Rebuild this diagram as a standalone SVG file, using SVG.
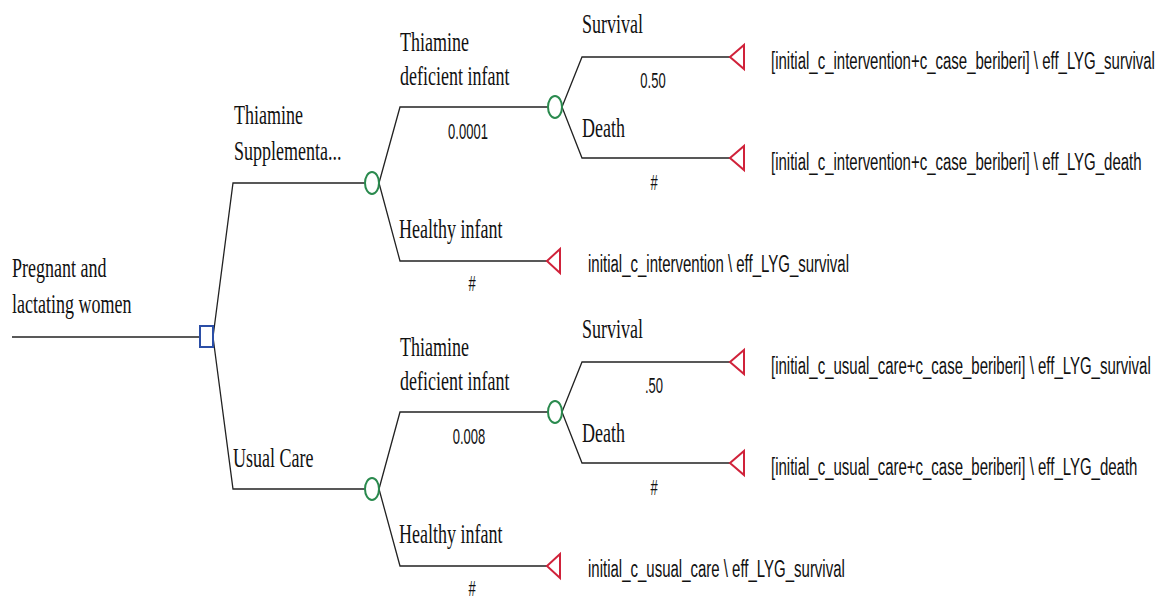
<svg xmlns="http://www.w3.org/2000/svg" width="1163" height="599" viewBox="0 0 1163 599">
<style>
.ln{stroke:#222;stroke-width:1.3;fill:none}
.dec{fill:#fff;stroke:#2b4ea6;stroke-width:2}
.chn{fill:#fff;stroke:#2a8a4e;stroke-width:2}
.trm{fill:#fff;stroke:#d0223a;stroke-width:2;stroke-linejoin:miter}
.lb{font-family:"Liberation Serif","Times New Roman",serif;font-size:18px;fill:#111}
.pf{font-family:"Liberation Sans",Arial,sans-serif;font-size:15px;fill:#111}
.pr{font-family:"Liberation Sans",Arial,sans-serif;font-size:13px;fill:#111;text-anchor:middle}
</style>
<rect width="1163" height="599" fill="#fff"/>
<g id="connectors">
<path class="ln" d="M12 337H200"/>
<path class="ln" d="M213 337L233 183H365M213 337L233 489H365"/>
<path class="ln" d="M379 183L400 107H548M379 183L400 261H547"/>
<path class="ln" d="M562 107L582 57H730M562 107L582 158H730"/>
<path class="ln" d="M379 489L400 412H548M379 489L400 566H547"/>
<path class="ln" d="M562 412L582 362H730M562 412L582 463H730"/>
</g>
<g id="root">
<rect class="dec" x="200" y="326" width="13" height="21"/>
<text class="lb" transform="translate(12,277) scale(1,1.55)">Pregnant and<tspan x="0" dy="23.5">lactating women</tspan></text>
</g>
<g id="thiamine-supplementation">
<ellipse class="chn" cx="372" cy="183" rx="7" ry="11"/>
<text class="lb" transform="translate(234,124) scale(1,1.55)">Thiamine<tspan x="0" dy="23.5">Supplementa...</tspan></text>
</g>
<g id="ts-deficient">
<ellipse class="chn" cx="555" cy="107" rx="7" ry="11"/>
<text class="lb" transform="translate(400,51) scale(1,1.55)">Thiamine<tspan x="0" dy="22">deficient infant</tspan></text>
<text class="pr" transform="translate(468,139) scale(1,1.7)">0.0001</text>
</g>
<g id="ts-survival">
<path class="trm" d="M730 57L744 45V69Z"/>
<text class="lb" transform="translate(582,33) scale(1,1.55)">Survival</text>
<text class="pr" transform="translate(653,88) scale(1,1.7)">0.50</text>
<text class="pf" transform="translate(771,69) scale(1,1.55)">[initial_c_intervention+c_case_beriberi] \ eff_LYG_survival</text>
</g>
<g id="ts-death">
<path class="trm" d="M730 158L744 146V170Z"/>
<text class="lb" transform="translate(582,137) scale(1,1.55)">Death</text>
<text class="pr" transform="translate(654,190) scale(1,1.7)">#</text>
<text class="pf" transform="translate(771,170) scale(1,1.55)">[initial_c_intervention+c_case_beriberi] \ eff_LYG_death</text>
</g>
<g id="ts-healthy">
<path class="trm" d="M547 261L560 249V273Z"/>
<text class="lb" transform="translate(399,238) scale(1,1.55)">Healthy infant</text>
<text class="pr" transform="translate(472,291) scale(1,1.7)">#</text>
<text class="pf" transform="translate(588,272) scale(1,1.55)">initial_c_intervention \ eff_LYG_survival</text>
</g>
<g id="usual-care">
<ellipse class="chn" cx="372" cy="489" rx="7" ry="11"/>
<text class="lb" transform="translate(233,467) scale(1,1.55)">Usual Care</text>
</g>
<g id="uc-deficient">
<ellipse class="chn" cx="555" cy="412" rx="7" ry="11"/>
<text class="lb" transform="translate(400,356) scale(1,1.55)">Thiamine<tspan x="0" dy="22">deficient infant</tspan></text>
<text class="pr" transform="translate(469,444) scale(1,1.7)">0.008</text>
</g>
<g id="uc-survival">
<path class="trm" d="M730 362L744 350V374Z"/>
<text class="lb" transform="translate(582,338) scale(1,1.55)">Survival</text>
<text class="pr" transform="translate(654,393) scale(1,1.7)">.50</text>
<text class="pf" transform="translate(771,374) scale(1,1.55)">[initial_c_usual_care+c_case_beriberi] \ eff_LYG_survival</text>
</g>
<g id="uc-death">
<path class="trm" d="M730 463L744 451V475Z"/>
<text class="lb" transform="translate(582,442) scale(1,1.55)">Death</text>
<text class="pr" transform="translate(654,495) scale(1,1.7)">#</text>
<text class="pf" transform="translate(771,475) scale(1,1.55)">[initial_c_usual_care+c_case_beriberi] \ eff_LYG_death</text>
</g>
<g id="uc-healthy">
<path class="trm" d="M547 566L560 554V578Z"/>
<text class="lb" transform="translate(399,543) scale(1,1.55)">Healthy infant</text>
<text class="pr" transform="translate(472,596) scale(1,1.7)">#</text>
<text class="pf" transform="translate(588,577) scale(1,1.55)">initial_c_usual_care \ eff_LYG_survival</text>
</g>
</svg>
